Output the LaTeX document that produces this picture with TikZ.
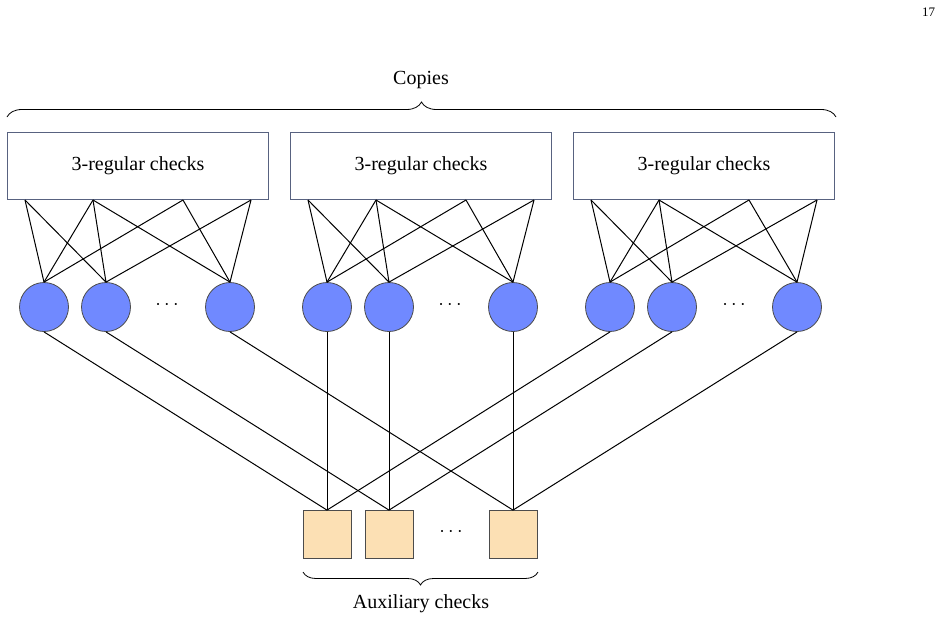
\documentclass[tikz,border=0pt]{standalone}
\usepackage{fontspec}
\setmainfont{Liberation Serif}
\usepackage{tikz}
\usetikzlibrary{positioning,calc,decorations.pathreplacing}
\definecolor{varblue}{RGB}{112,137,255}
\definecolor{auxfill}{RGB}{252,224,180}
\definecolor{boxline}{RGB}{88,98,128}

\begin{document}
\begin{tikzpicture}[x=0.5pt,y=-0.5pt]
\tikzstyle{chk}=[draw=boxline,fill=white,rectangle,minimum width=130.5pt,minimum height=33.5pt,inner sep=0pt]
\tikzstyle{vn}=[draw=black!70,fill=varblue,circle,minimum size=24.5pt,inner sep=0pt]
\tikzstyle{aux}=[draw=black!70,fill=auxfill,rectangle,minimum size=24pt,inner sep=0pt]
\tikzstyle{ed}=[draw=black,line width=.5pt]
\tikzstyle{brc}=[draw=black,decorate,decoration={brace,amplitude=7.5pt}]
\tikzstyle{brcb}=[draw=black,decorate,decoration={brace,amplitude=6.5pt}]
\useasboundingbox (0,0) rectangle (941,621);
\node (pg) at (928.5,12.5) {\fontsize{6.5}{8}\selectfont 17};
% the three copies
\node [chk] (b1) at (138,166) {3-regular checks};
\node [chk] (b2) at (421,166) {3-regular checks};
\node [chk] (b3) at (704,166) {3-regular checks};
\coordinate (p11) at (25,200);
\coordinate (p12) at (93,200);
\coordinate (p13) at (183,200);
\coordinate (p14) at (251,200);
\coordinate (p21) at (308,200);
\coordinate (p22) at (376,200);
\coordinate (p23) at (466,200);
\coordinate (p24) at (534,200);
\coordinate (p31) at (591,200);
\coordinate (p32) at (659,200);
\coordinate (p33) at (749,200);
\coordinate (p34) at (817,200);
% variable nodes
\node [vn] (v1) at (44,307) {};
\node [vn] (v2) at (106,307) {};
\node [vn] (v3) at (230,307) {};
\node [vn] (v4) at (327,307) {};
\node [vn] (v5) at (389,307) {};
\node [vn] (v6) at (513,307) {};
\node [vn] (v7) at (610,307) {};
\node [vn] (v8) at (672,307) {};
\node [vn] (v9) at (797,307) {};
\node (d1) at (167,305) {$\cdots$};
\node (d2) at (450,305) {$\cdots$};
\node (d3) at (734,305) {$\cdots$};
% auxiliary checks
\node [aux] (s1) at (327,534.5) {};
\node [aux] (s2) at (389,534.5) {};
\node [aux] (s3) at (513,534.5) {};
\node (d4) at (451,532) {$\cdots$};
% edges inside each copy
\draw [ed] (p11) -- (v1.north);
\draw [ed] (p11) -- (v2.north);
\draw [ed] (p12) -- (v1.north);
\draw [ed] (p12) -- (v2.north);
\draw [ed] (p12) -- (v3.north);
\draw [ed] (p13) -- (v1.north);
\draw [ed] (p13) -- (v3.north);
\draw [ed] (p14) -- (v2.north);
\draw [ed] (p14) -- (v3.north);
\draw [ed] (p21) -- (v4.north);
\draw [ed] (p21) -- (v5.north);
\draw [ed] (p22) -- (v4.north);
\draw [ed] (p22) -- (v5.north);
\draw [ed] (p22) -- (v6.north);
\draw [ed] (p23) -- (v4.north);
\draw [ed] (p23) -- (v6.north);
\draw [ed] (p24) -- (v5.north);
\draw [ed] (p24) -- (v6.north);
\draw [ed] (p31) -- (v7.north);
\draw [ed] (p31) -- (v8.north);
\draw [ed] (p32) -- (v7.north);
\draw [ed] (p32) -- (v8.north);
\draw [ed] (p32) -- (v9.north);
\draw [ed] (p33) -- (v7.north);
\draw [ed] (p33) -- (v9.north);
\draw [ed] (p34) -- (v8.north);
\draw [ed] (p34) -- (v9.north);
% edges to auxiliary checks
\draw [ed] (v1.south) -- (s1.north);
\draw [ed] (v2.south) -- (s2.north);
\draw [ed] (v3.south) -- (s3.north);
\draw [ed] (v4.south) -- (s1.north);
\draw [ed] (v5.south) -- (s2.north);
\draw [ed] (v6.south) -- (s3.north);
\draw [ed] (v7.south) -- (s1.north);
\draw [ed] (v8.south) -- (s2.north);
\draw [ed] (v9.south) -- (s3.north);
% braces
\coordinate (cl) at (7,117);
\coordinate (cr) at (836,117);
\draw [brc] (cl) -- (cr);
\node (cp) at (421,80) {Copies};
\coordinate (al) at (538,572);
\coordinate (ar) at (303,572);
\draw [brcb] (al) -- (ar);
\node (ac) at (421,604) {Auxiliary checks};
\end{tikzpicture}
\end{document}
